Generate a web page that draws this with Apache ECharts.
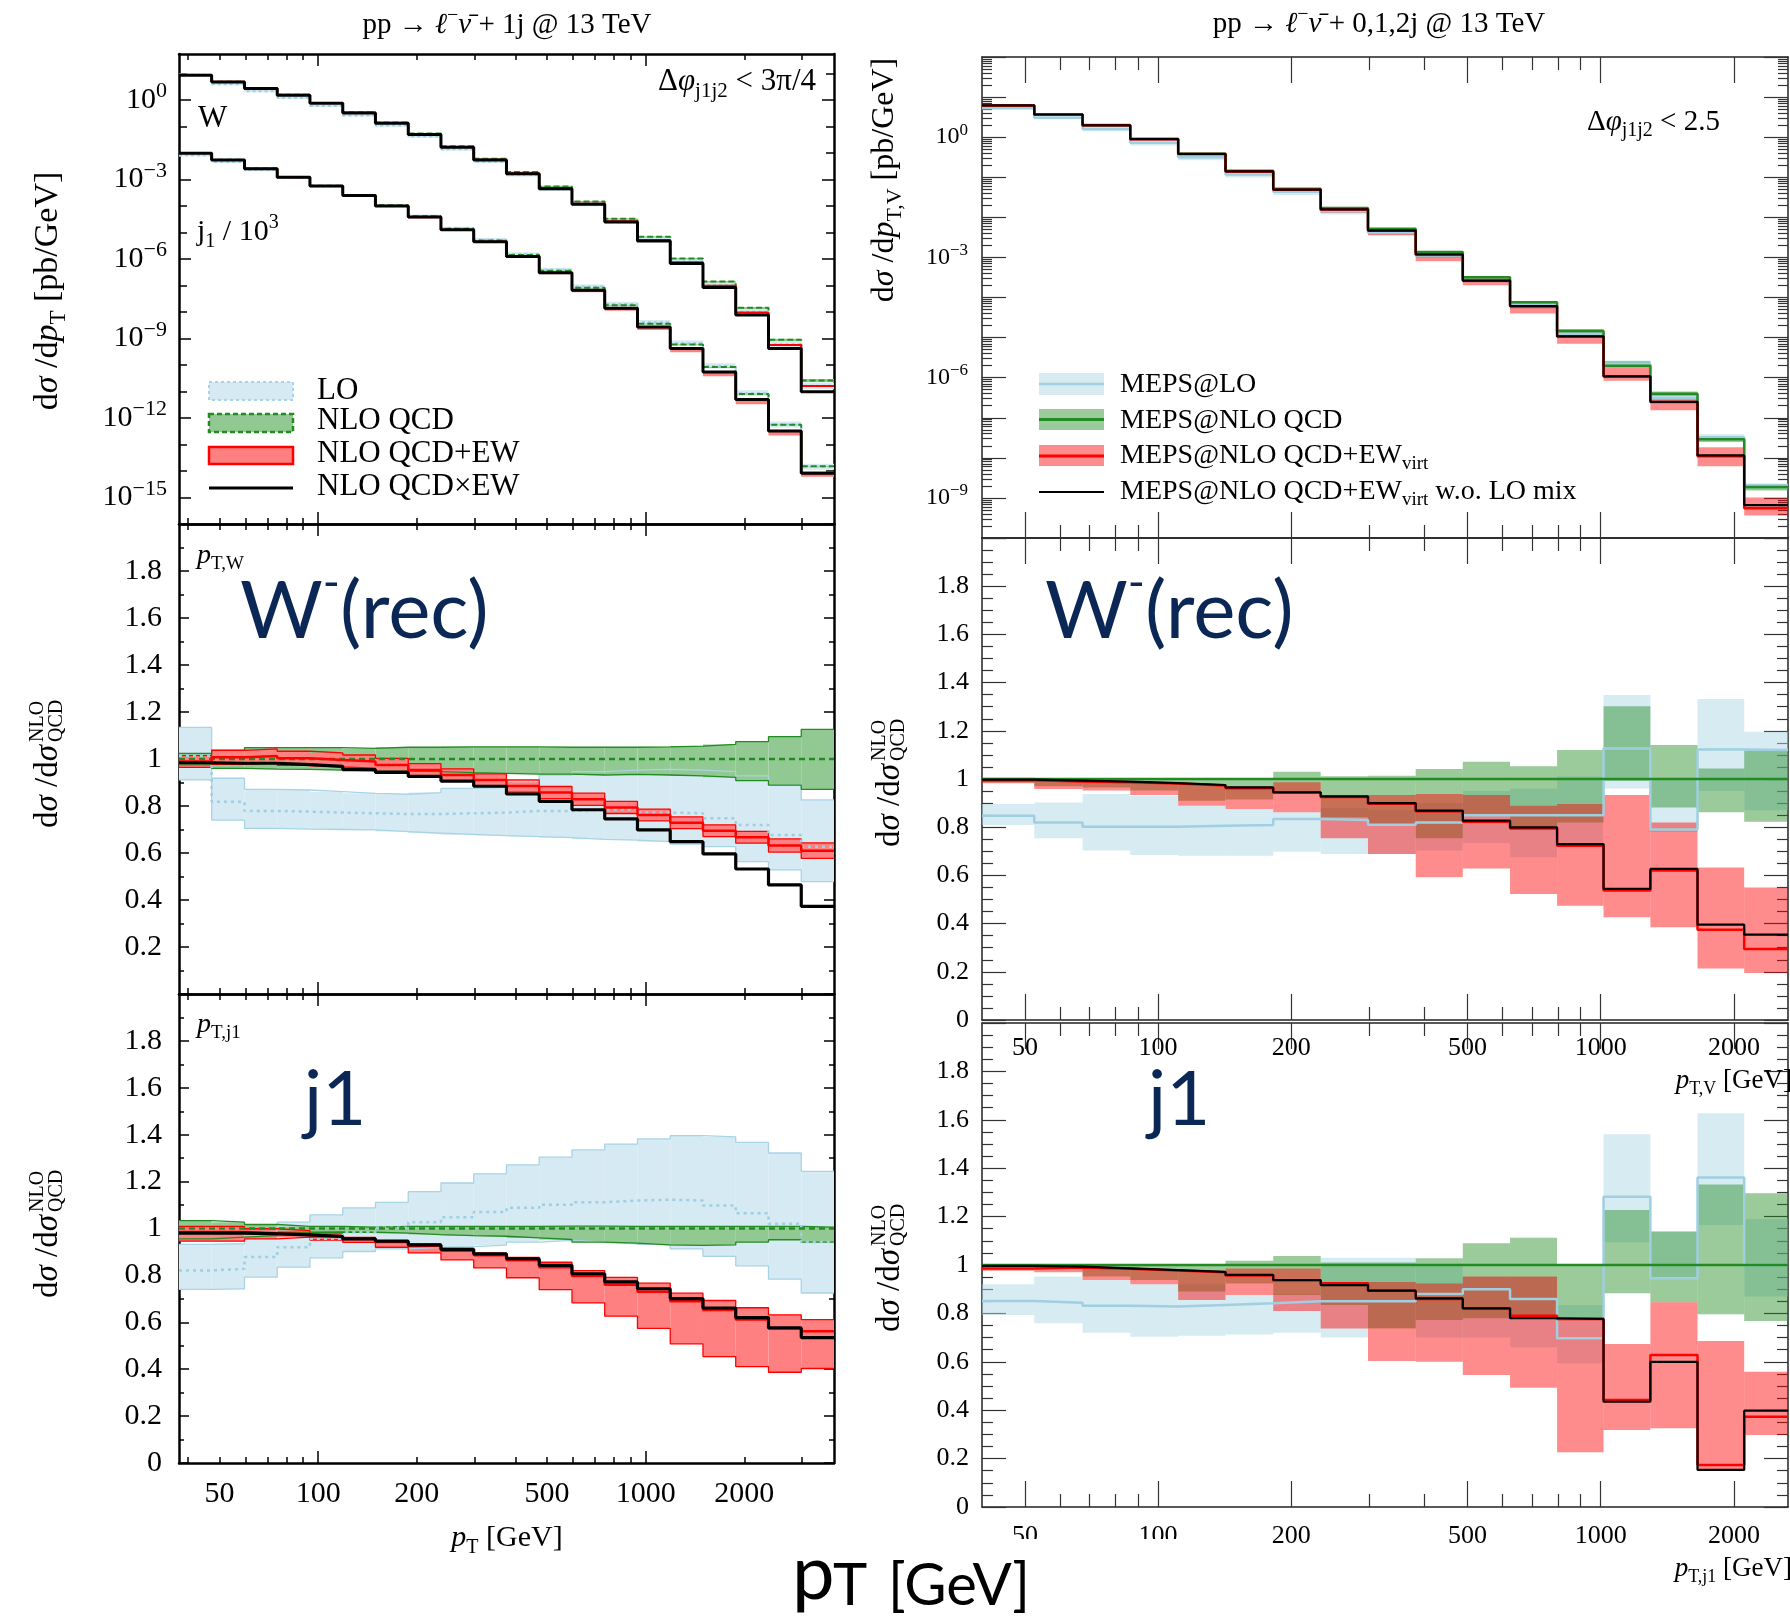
<!DOCTYPE html>
<html><head><meta charset="utf-8">
<script src="https://cdn.jsdelivr.net/npm/echarts@6/dist/echarts.min.js"></script>
<style>html,body{margin:0;padding:0;background:#fff;}#c{width:1790px;height:1617px;}</style>
</head><body><div id="c"></div>
<script>
// ---------------- DATA ----------------
// Left column (pp -> l nu + 1j), 20 log bins
const leftEdges = [37.6, 47.3, 59.6, 75.0, 94.4, 118.9, 149.6, 188.4, 237.1, 298.5, 375.8, 473.1, 595.6, 749.8, 943.9, 1188.3, 1496.0, 1883.3, 2371.0, 2984.9, 3757.8];
const leftXLabels = [50, 100, 200, 500, 1000, 2000];

// NLO QCD absolute distributions [pb/GeV]
const wNLO = [8.75, 4.82, 2.74, 1.55, 0.766, 0.339, 0.14, 0.0541, 0.0179, 6.08e-3, 1.91e-3, 5.45e-4, 1.47e-4, 3.30e-5, 6.86e-6, 1.04e-6, 1.40e-7, 1.43e-8, 8.97e-10, 2.62e-11];
const j1NLO = [9.98, 5.48, 2.57, 1.24, 0.582, 0.257, 0.106, 0.0409, 0.0138, 5.0e-3, 1.41e-3, 3.58e-4, 8.18e-5, 1.79e-5, 3.62e-6, 5.94e-7, 8.3e-8, 8.1e-9, 5.6e-10, 1.52e-11];
const j1Scale = 1e3;

// W ratios to NLO QCD
const wLO    = [1.014, 0.818, 0.779, 0.776, 0.772, 0.769, 0.766, 0.766, 0.769, 0.772, 0.779, 0.779, 0.783, 0.786, 0.772, 0.769, 0.748, 0.719, 0.677, 0.627];
const wLOLo  = [0.911, 0.740, 0.705, 0.702, 0.700, 0.698, 0.691, 0.684, 0.679, 0.674, 0.670, 0.665, 0.658, 0.655, 0.648, 0.638, 0.627, 0.563, 0.528, 0.478];
const wLOHi  = [1.135, 0.918, 0.871, 0.868, 0.861, 0.854, 0.850, 0.857, 0.875, 0.879, 0.904, 0.932, 0.946, 0.953, 0.956, 0.953, 0.946, 0.928, 0.889, 0.826];
const wNLOLo = [0.975, 0.960, 0.957, 0.956, 0.953, 0.950, 0.949, 0.946, 0.942, 0.939, 0.936, 0.936, 0.932, 0.935, 0.932, 0.928, 0.922, 0.908, 0.889, 0.871];
const wNLOHi = [1.024, 1.038, 1.048, 1.048, 1.048, 1.045, 1.050, 1.050, 1.052, 1.052, 1.052, 1.050, 1.050, 1.050, 1.052, 1.055, 1.062, 1.074, 1.095, 1.126];
const wEW    = [0.989, 1.007, 1.013, 1.003, 0.996, 0.989, 0.975, 0.953, 0.932, 0.911, 0.885, 0.857, 0.829, 0.794, 0.762, 0.729, 0.695, 0.667, 0.632, 0.610];
const wEWLo  = [0.964, 0.977, 0.983, 0.973, 0.966, 0.961, 0.947, 0.926, 0.906, 0.885, 0.859, 0.831, 0.803, 0.768, 0.737, 0.704, 0.670, 0.642, 0.604, 0.577];
const wEWHi  = [1.014, 1.037, 1.043, 1.033, 1.026, 1.017, 1.003, 0.980, 0.958, 0.937, 0.911, 0.883, 0.855, 0.820, 0.787, 0.754, 0.720, 0.692, 0.660, 0.643];
const wEWx   = [0.984, 0.982, 0.982, 0.976, 0.969, 0.955, 0.943, 0.926, 0.906, 0.884, 0.851, 0.820, 0.784, 0.745, 0.698, 0.648, 0.596, 0.532, 0.464, 0.373];

// j1 ratios to NLO QCD
const jLO    = [0.821, 0.828, 0.878, 0.920, 0.956, 0.984, 1.003, 1.027, 1.048, 1.070, 1.088, 1.101, 1.112, 1.119, 1.123, 1.119, 1.098, 1.065, 1.020, 0.942];
const jLOLo  = [0.740, 0.743, 0.793, 0.835, 0.875, 0.902, 0.913, 0.920, 0.923, 0.929, 0.942, 0.949, 0.942, 0.935, 0.930, 0.913, 0.881, 0.841, 0.784, 0.725];
const jLOHi  = [0.932, 0.935, 0.970, 1.027, 1.058, 1.088, 1.111, 1.157, 1.194, 1.233, 1.271, 1.304, 1.335, 1.360, 1.382, 1.396, 1.391, 1.367, 1.322, 1.244];
const jNLOLo = [0.956, 0.963, 0.970, 0.984, 0.985, 0.984, 0.980, 0.974, 0.970, 0.967, 0.960, 0.953, 0.942, 0.938, 0.930, 0.928, 0.930, 0.942, 0.952, 0.942];
const jNLOHi = [1.034, 1.027, 1.017, 1.009, 1.009, 1.006, 1.009, 1.009, 1.009, 1.009, 1.009, 1.010, 1.010, 1.009, 1.009, 1.009, 1.009, 1.009, 1.009, 1.006];
const jEW    = [0.985, 0.985, 0.980, 0.975, 0.966, 0.955, 0.942, 0.925, 0.905, 0.886, 0.865, 0.835, 0.797, 0.760, 0.730, 0.690, 0.652, 0.612, 0.575, 0.562];
const jEWLo  = [0.946, 0.946, 0.956, 0.963, 0.951, 0.941, 0.920, 0.896, 0.866, 0.832, 0.790, 0.739, 0.683, 0.626, 0.574, 0.508, 0.454, 0.411, 0.387, 0.403];
const jEWHi  = [1.009, 1.009, 0.999, 0.991, 0.977, 0.962, 0.948, 0.934, 0.915, 0.895, 0.877, 0.856, 0.820, 0.792, 0.767, 0.724, 0.693, 0.662, 0.632, 0.611];
const jEWx   = [0.980, 0.980, 0.977, 0.973, 0.966, 0.956, 0.946, 0.930, 0.911, 0.892, 0.871, 0.843, 0.807, 0.772, 0.743, 0.701, 0.661, 0.620, 0.576, 0.535];

// Right column (pp -> l nu + 0,1,2j, MEPS), 17 bins
const rightEdges = [40, 52.5, 67.5, 86.5, 111, 142, 182, 233, 298, 382, 488, 624, 797, 1015, 1295, 1655, 2110, 2650];
const rightXLabels = [50, 100, 200, 500, 1000, 2000];
const vNLO = [6.2, 3.7, 2.0, 0.91, 0.39, 0.145, 0.052, 0.017, 5.2e-3, 1.36e-3, 3.2e-4, 7.6e-5, 1.47e-5, 1.98e-6, 3.97e-7, 2.9e-8, 1.87e-9];

const vLO      = [0.848, 0.820, 0.802, 0.802, 0.806, 0.809, 0.834, 0.830, 0.810, 0.820, 0.850, 0.850, 0.850, 1.127, 0.790, 1.122, 1.120];
const vLOLo    = [0.809, 0.754, 0.703, 0.685, 0.682, 0.682, 0.698, 0.689, 0.689, 0.703, 0.734, 0.675, 0.730, 0.961, 0.780, 0.950, 0.870];
const vLOHi    = [0.896, 0.903, 0.938, 0.930, 0.889, 0.876, 0.862, 0.880, 0.870, 0.900, 0.950, 0.960, 1.010, 1.349, 1.000, 1.332, 1.196];
const vNLOLo   = [0.985, 0.970, 0.965, 0.952, 0.910, 0.915, 0.945, 0.841, 0.809, 0.754, 0.851, 0.793, 0.820, 0.993, 0.882, 0.862, 0.823];
const vNLOHi   = [1.005, 1.004, 1.003, 1.004, 1.000, 1.000, 1.030, 1.011, 1.014, 1.041, 1.072, 1.053, 1.120, 1.302, 1.141, 1.044, 1.118];
const vEW      = [0.995, 0.990, 0.987, 0.981, 0.973, 0.962, 0.943, 0.925, 0.897, 0.866, 0.823, 0.795, 0.723, 0.537, 0.620, 0.375, 0.295];
const vEWLo    = [0.982, 0.958, 0.952, 0.934, 0.889, 0.876, 0.862, 0.754, 0.689, 0.592, 0.629, 0.523, 0.474, 0.426, 0.385, 0.214, 0.195];
const vEWHi    = [1.000, 0.995, 0.992, 0.986, 0.979, 0.970, 0.986, 0.931, 0.934, 0.938, 0.934, 0.889, 0.896, 0.934, 0.820, 0.633, 0.550];
const vEWnoMix = [0.997, 0.993, 0.989, 0.983, 0.975, 0.965, 0.945, 0.928, 0.900, 0.869, 0.827, 0.799, 0.730, 0.544, 0.627, 0.396, 0.354];

const jvLO      = [0.851, 0.844, 0.832, 0.828, 0.835, 0.842, 0.850, 0.850, 0.850, 0.880, 0.900, 0.860, 0.697, 1.282, 0.945, 1.362, 1.000];
const jvLOLo    = [0.793, 0.759, 0.720, 0.704, 0.708, 0.713, 0.720, 0.700, 0.740, 0.700, 0.700, 0.660, 0.594, 1.094, 0.945, 1.165, 0.870];
const jvLOHi    = [0.920, 0.952, 0.938, 0.920, 0.920, 0.876, 0.880, 1.030, 1.030, 1.000, 0.950, 0.950, 0.835, 1.540, 1.138, 1.627, 1.190];
const jvNLOLo   = [0.993, 0.985, 0.952, 0.938, 0.890, 0.924, 0.876, 0.835, 0.738, 0.773, 0.780, 0.780, 0.777, 0.883, 0.846, 0.796, 0.769];
const jvNLOHi   = [1.004, 1.003, 0.998, 1.000, 1.002, 1.018, 1.037, 1.010, 1.010, 1.028, 1.090, 1.113, 1.000, 1.227, 1.138, 1.333, 1.296];
const jvEW      = [0.986, 0.990, 0.984, 0.977, 0.970, 0.957, 0.936, 0.925, 0.894, 0.860, 0.820, 0.790, 0.777, 0.442, 0.628, 0.174, 0.373];
const jvEWLo    = [0.976, 0.970, 0.938, 0.920, 0.855, 0.876, 0.810, 0.738, 0.603, 0.600, 0.545, 0.493, 0.226, 0.318, 0.325, 0.150, 0.298];
const jvEWHi    = [0.996, 0.993, 0.986, 0.980, 0.972, 0.986, 0.986, 0.924, 0.930, 0.924, 0.952, 0.952, 0.777, 0.674, 0.846, 0.686, 0.559];
const jvEWnoMix = [0.996, 0.993, 0.986, 0.979, 0.972, 0.959, 0.938, 0.917, 0.894, 0.862, 0.821, 0.780, 0.777, 0.435, 0.600, 0.153, 0.398];

const ratioLabels = [0, 0.2, 0.4, 0.6, 0.8, 1, 1.2, 1.4, 1.6, 1.8];
const logLabelsL = [1, 1e-3, 1e-6, 1e-9, 1e-12, 1e-15];
const logLabelsR = [1, 1e-3, 1e-6, 1e-9];

// ---------------- STYLE ----------------
const SERIF = "'Liberation Serif', 'DejaVu Serif', serif";
const SANS = "Lato, 'Open Sans', sans-serif";
const NAVY = '#0a2756';
const LOFILL = '#d5eaf2', LOEDGE = '#a8d4e5', LOLINE = '#9fcfe0';
const GFILL = '#92c992', GEDGE = '#228b22';
const RFILL = '#ff8080', REDGE = '#ff0000';
const aLO = 'rgba(173,216,230,0.5)', aG = 'rgba(34,139,34,0.45)', aR = 'rgba(255,0,0,0.45)';

// ---------------- HELPERS ----------------
const mul = (a, b) => a.map((v, i) => v * b[i]);
const scl = (a, k) => a.map(v => v / k);
function steps(edges, vals) {
  const d = [];
  vals.forEach((v, i) => { d.push([edges[i], v]); d.push([edges[i + 1], v]); });
  return d;
}
function bandData(edges, lo, hi) { return lo.map((l, i) => [edges[i], edges[i + 1], l, hi[i]]); }

const xAxes = [], yAxes = [], series = [];
const LS = {line: '#000', lineW: 2.5, tick: '#000', tickW: 1.5, size: 30};
const RS = {line: '#222', lineW: 1.5, tick: '#333', tickW: 1.2, size: 26};

function logFmt(v) {
  const e = Math.round(Math.log10(v));
  return '{b|10}{s|' + (e < 0 ? '\u2212' + (-e) : e) + '}';
}
function labelCfg(o, st) {
  const cfg = {show: true, customValues: o.labels, margin: o.margin, color: '#000',
    fontFamily: SERIF, fontSize: o.labelSize || st.size};
  if (o.logLabel) {
    const bs = o.labelSize || st.size, ss = Math.round(bs * (o.supRatio || 0.7));
    cfg.formatter = logFmt;
    cfg.rich = {b: {fontFamily: SERIF, fontSize: bs, color: '#000', lineHeight: Math.round(bs * 1.3)},
                s: {fontFamily: SERIF, fontSize: ss, color: '#000', verticalAlign: 'top', lineHeight: Math.round(ss * 1.1)}};
  } else {
    cfg.formatter = v => String(Math.round(v * 10) / 10);
  }
  return cfg;
}
function addAxes(list, g, o, positions) {
  const st = o.st;
  const base = {gridIndex: g, type: o.type, min: o.min, max: o.max, splitLine: {show: false},
    splitArea: {show: false}, minorTick: {show: false}, axisPointer: {show: false}, silent: true};
  if (o.type === 'log') base.logBase = 10;
  const idx = list.length;
  const mk = (pos, vals, len, showLine, labels) => Object.assign({}, base, {position: pos,
    axisLine: {show: showLine, onZero: false, lineStyle: {color: st.line, width: st.lineW}},
    axisTick: {show: true, inside: true, length: len, customValues: vals, lineStyle: {color: st.tick, width: st.tickW}},
    axisLabel: labels ? labelCfg(o, st) : {show: false}});
  list.push(mk(positions[0], o.major, o.majLen, true, !!o.labels));
  list.push(mk(positions[0], o.minor, o.minLen, false, false));
  list.push(mk(positions[1], o.major, o.majLen, true, false));
  list.push(mk(positions[1], o.minor, o.minLen, false, false));
  return idx;
}
const addX = (g, o) => addAxes(xAxes, g, o, ['bottom', 'top']);
const addY = (g, o) => addAxes(yAxes, g, o, ['left', 'right']);

function band(xi, yi, data, fill) {
  return {type: 'custom', xAxisIndex: xi, yAxisIndex: yi, data, silent: true, clip: true,
    encode: {x: [0, 1], y: [2, 3]},
    renderItem(params, api) {
      const a = api.coord([api.value(0), api.value(3)]);
      const b = api.coord([api.value(1), api.value(2)]);
      return {type: 'rect', shape: {x: a[0], y: a[1], width: b[0] - a[0], height: b[1] - a[1]}, style: {fill}};
    }};
}
function sline(xi, yi, edges, vals, color, width, type) {
  return {type: 'line', xAxisIndex: xi, yAxisIndex: yi, data: steps(edges, vals), symbol: 'none', showSymbol: false,
    silent: true, clip: true, lineStyle: {color, width, type: type || 'solid'}};
}

// tick value sets
const decades = (a, b) => { const r = []; for (let e = a; e <= b; e++) r.push(Math.pow(10, e)); return r; };
const subDecades = (a, b) => { const r = []; for (let e = a; e < b; e++) for (let k = 2; k <= 9; k++) r.push(k * Math.pow(10, e)); return r; };
const linTicks = (step, skip) => { const r = []; for (let i = 0; i <= Math.round(2 / step); i++) { const v = Math.round(i * step * 100) / 100; if (!skip || Math.abs(v / skip - Math.round(v / skip)) > 1e-6) r.push(v); } return r; };

// ---------------- AXES ----------------
const lx = {type: 'log', min: leftEdges[0], max: leftEdges[leftEdges.length - 1], st: LS,
  major: [100, 1000], minor: [40, 50, 60, 70, 80, 90, 200, 300, 400, 500, 600, 700, 800, 900, 2000, 3000], majLen: 12, minLen: 6};
const rx = {type: 'log', min: rightEdges[0], max: rightEdges[rightEdges.length - 1], st: RS,
  major: [50, 100, 200, 500, 1000, 2000], minor: [60, 70, 80, 90, 300, 400, 600, 700, 800, 900], majLen: 26, minLen: 13};

const X0 = addX(0, lx);
const X1 = addX(1, lx);
const X2 = addX(2, Object.assign({}, lx, {labels: leftXLabels, margin: 16}));
const X3 = addX(3, rx);
const X4 = addX(4, Object.assign({}, rx, {labels: rightXLabels, margin: 15}));
const X5 = addX(5, Object.assign({}, rx, {labels: rightXLabels, margin: 16}));

const Y0 = addY(0, {type: 'log', min: 1e-16, max: 54, st: LS, major: logLabelsL, minor: decades(-16, 1), majLen: 12, minLen: 8,
  labels: logLabelsL, logLabel: true, margin: 12, labelSize: 30, supRatio: 0.72});
const lratio = {type: 'value', min: 0, max: 2, st: LS, major: linTicks(0.2), minor: linTicks(0.1, 0.2), majLen: 10, minLen: 5, margin: 17};
const Y1 = addY(1, Object.assign({}, lratio, {labels: ratioLabels.slice(1)}));
const Y2 = addY(2, Object.assign({}, lratio, {labels: ratioLabels}));
const Y3 = addY(3, {type: 'log', min: 1e-10, max: 100, st: RS, major: decades(-10, 2), minor: subDecades(-10, 2), majLen: 24, minLen: 10,
  labels: logLabelsR, logLabel: true, margin: 14, labelSize: 24});
const rratio = {type: 'value', min: 0, max: 2, st: RS, major: linTicks(0.2), minor: linTicks(0.05, 0.2), majLen: 24, minLen: 11, margin: 13, labels: ratioLabels};
const Y4 = addY(4, rratio);
const Y5 = addY(5, rratio);

// ---------------- SERIES ----------------
[[wNLO, wLO, wLOLo, wLOHi, wNLOLo, wNLOHi, wEW, wEWLo, wEWHi, wEWx],
 [scl(j1NLO, j1Scale), jLO, jLOLo, jLOHi, jNLOLo, jNLOHi, jEW, jEWLo, jEWHi, jEWx]].forEach(s => {
  const [nlo, lo, loLo, loHi, nLo, nHi, ew, ewLo, ewHi, ewx] = s;
  series.push(band(X0, Y0, bandData(leftEdges, mul(nlo, loLo), mul(nlo, loHi)), LOFILL));
  series.push(band(X0, Y0, bandData(leftEdges, mul(nlo, nLo), mul(nlo, nHi)), GFILL));
  series.push(band(X0, Y0, bandData(leftEdges, mul(nlo, ewLo), mul(nlo, ewHi)), RFILL));
});
[[wNLO, wLO, wEW, wEWx], [scl(j1NLO, j1Scale), jLO, jEW, jEWx]].forEach(s => {
  const [nlo, lo, ew, ewx] = s;
  series.push(sline(X0, Y0, leftEdges, mul(nlo, lo), LOLINE, 2, [3, 3]));
  series.push(sline(X0, Y0, leftEdges, nlo, GEDGE, 2, [6, 3]));
  series.push(sline(X0, Y0, leftEdges, mul(nlo, ew), REDGE, 2));
  series.push(sline(X0, Y0, leftEdges, mul(nlo, ewx), '#000', 3));
});

function leftRatio(xi, yi, lo, loLo, loHi, nLo, nHi, ew, ewLo, ewHi, ewx) {
  const ones = lo.map(() => 1);
  series.push(band(xi, yi, bandData(leftEdges, loLo, loHi), LOFILL));
  series.push(sline(xi, yi, leftEdges, loLo, LOEDGE, 1.3));
  series.push(sline(xi, yi, leftEdges, loHi, LOEDGE, 1.3));
  series.push(band(xi, yi, bandData(leftEdges, nLo, nHi), GFILL));
  series.push(sline(xi, yi, leftEdges, nLo, GEDGE, 1.3));
  series.push(sline(xi, yi, leftEdges, nHi, GEDGE, 1.3));
  series.push(band(xi, yi, bandData(leftEdges, ewLo, ewHi), RFILL));
  series.push(sline(xi, yi, leftEdges, ewLo, REDGE, 1.3));
  series.push(sline(xi, yi, leftEdges, ewHi, REDGE, 1.3));
  series.push(sline(xi, yi, leftEdges, lo, LOLINE, 2.5, [3, 4]));
  series.push(sline(xi, yi, leftEdges, ones, GEDGE, 2.5, [6, 4]));
  series.push(sline(xi, yi, leftEdges, ew, REDGE, 2.5));
  series.push(sline(xi, yi, leftEdges, ewx, '#000', 3.2));
}
leftRatio(X1, Y1, wLO, wLOLo, wLOHi, wNLOLo, wNLOHi, wEW, wEWLo, wEWHi, wEWx);
leftRatio(X2, Y2, jLO, jLOLo, jLOHi, jNLOLo, jNLOHi, jEW, jEWLo, jEWHi, jEWx);

series.push(band(X3, Y3, bandData(rightEdges, mul(vNLO, vLOLo), mul(vNLO, vLOHi)), aLO));
series.push(sline(X3, Y3, rightEdges, mul(vNLO, vLO), LOLINE, 2.5));
series.push(band(X3, Y3, bandData(rightEdges, mul(vNLO, vNLOLo), mul(vNLO, vNLOHi)), aG));
series.push(band(X3, Y3, bandData(rightEdges, mul(vNLO, vEWLo), mul(vNLO, vEWHi)), aR));
series.push(sline(X3, Y3, rightEdges, vNLO, GEDGE, 2.5));
series.push(sline(X3, Y3, rightEdges, mul(vNLO, vEW), REDGE, 2.5));
series.push(sline(X3, Y3, rightEdges, mul(vNLO, vEWnoMix), '#000', 2.2));

function rightRatio(xi, yi, lo, loLo, loHi, nLo, nHi, ew, ewLo, ewHi, ewx) {
  const ones = lo.map(() => 1);
  series.push(band(xi, yi, bandData(rightEdges, loLo, loHi), aLO));
  series.push(sline(xi, yi, rightEdges, lo, LOLINE, 2.5));
  series.push(band(xi, yi, bandData(rightEdges, nLo, nHi), aG));
  series.push(band(xi, yi, bandData(rightEdges, ewLo, ewHi), aR));
  series.push(sline(xi, yi, rightEdges, ones, GEDGE, 2.5));
  series.push(sline(xi, yi, rightEdges, ew, REDGE, 2.5));
  series.push(sline(xi, yi, rightEdges, ewx, '#000', 2.2));
}
rightRatio(X4, Y4, vLO, vLOLo, vLOHi, vNLOLo, vNLOHi, vEW, vEWLo, vEWHi, vEWnoMix);
rightRatio(X5, Y5, jvLO, jvLOLo, jvLOHi, jvNLOLo, jvNLOHi, jvEW, jvEWLo, jvEWHi, jvEWnoMix);

// ---------------- TEXT / GRAPHIC ----------------
function tok(size, family, fill, extra) {
  return Object.assign({fontSize: size, fontFamily: family, fill, lineHeight: Math.round(size * 1.3)}, extra || {});
}
function richSet(size, family, fill) {
  const ss = Math.round(size * 0.68);
  return {
    i: tok(size, family, fill, {fontStyle: 'italic'}),
    sub: tok(ss, family, fill, {verticalAlign: 'bottom', lineHeight: Math.round(ss * 1.1)}),
    sup: tok(ss, family, fill, {verticalAlign: 'top', lineHeight: Math.round(ss * 1.1)})
  };
}
function T(x, y, text, size, opts) {
  opts = opts || {};
  const family = opts.family || SERIF, fill = opts.fill || '#000';
  return {type: 'text', x, y, z: 100, silent: true, rotation: opts.rot || 0,
    style: {text, rich: opts.rich || richSet(size, family, fill), fontSize: size, fontFamily: family, fill,
      lineHeight: Math.round(size * 1.3), align: opts.align || 'left', verticalAlign: 'middle'}};
}
function ratioTitle(cx, cy) {
  return {type: 'group', x: cx, y: cy, rotation: Math.PI / 2, z: 100, silent: true, children: [
    T(-68, 0, 'd{i|σ} /d{i|σ}', 33),
    T(18, -10, 'NLO', 20),
    T(18, 9, 'QCD', 20)
  ]};
}
const bigRich = {s: {fontSize: 46, fontFamily: SANS, fill: NAVY, verticalAlign: 'top', lineHeight: 54}};

const graphics = [
  T(507, 25, 'pp → {i|ℓ}{sup|−}{i|ν̄} + 1j @ 13 TeV', 29, {align: 'center'}),
  T(1379, 24, 'pp → {i|ℓ}{sup|−}{i|ν̄} + 0,1,2j @ 13 TeV', 29, {align: 'center'}),
  T(48, 291, 'd{i|σ} /d{i|p}{sub|T} [pb/GeV]', 34, {align: 'center', rot: Math.PI / 2}),
  T(885, 180, 'd{i|σ} /d{i|p}{sub|T,V} [pb/GeV]', 32, {align: 'center', rot: Math.PI / 2}),
  ratioTitle(48, 760), ratioTitle(48, 1230), ratioTitle(890, 779), ratioTitle(890, 1264),
  T(507, 1538, '{i|p}{sub|T} [GeV]', 30, {align: 'center'}),
  T(1792, 1081, '{i|p}{sub|T,V} [GeV]', 27, {align: 'right'}),
  T(1792, 1569, '{i|p}{sub|T,j1} [GeV]', 27, {align: 'right'}),
  T(816, 82, 'Δ{i|φ}{sub|j1j2} < 3π/4', 31, {align: 'right'}),
  T(198, 119, 'W', 31),
  T(197, 232, 'j{sub|1} / 10{sup|3}', 30),
  T(197, 556, '{i|p}{sub|T,W}', 28),
  T(197, 1025, '{i|p}{sub|T,j1}', 28),
  T(1587, 122, 'Δ{i|φ}{sub|j1j2} < 2.5', 29),
  {type: 'rect', z: 100, silent: true, shape: {x: 209, y: 382, width: 84, height: 18}, style: {fill: LOFILL, stroke: LOEDGE, lineWidth: 2, lineDash: [3, 3]}},
  {type: 'rect', z: 100, silent: true, shape: {x: 209, y: 414, width: 84, height: 18}, style: {fill: GFILL, stroke: GEDGE, lineWidth: 2.5, lineDash: [5, 3]}},
  {type: 'rect', z: 100, silent: true, shape: {x: 209, y: 447, width: 84, height: 17}, style: {fill: RFILL, stroke: REDGE, lineWidth: 2.5}},
  {type: 'line', z: 100, silent: true, shape: {x1: 209, y1: 488, x2: 293, y2: 488}, style: {stroke: '#000', lineWidth: 3}},
  T(317, 391, 'LO', 31), T(317, 421, 'NLO QCD', 31), T(317, 454, 'NLO QCD+EW', 31), T(317, 487, 'NLO QCD×EW', 31),
  {type: 'rect', z: 100, silent: true, shape: {x: 1039, y: 373, width: 65, height: 22}, style: {fill: aLO}},
  {type: 'line', z: 100, silent: true, shape: {x1: 1039, y1: 384, x2: 1104, y2: 384}, style: {stroke: LOLINE, lineWidth: 2.5}},
  {type: 'rect', z: 100, silent: true, shape: {x: 1039, y: 409, width: 65, height: 21}, style: {fill: aG}},
  {type: 'line', z: 100, silent: true, shape: {x1: 1039, y1: 419.5, x2: 1104, y2: 419.5}, style: {stroke: GEDGE, lineWidth: 3}},
  {type: 'rect', z: 100, silent: true, shape: {x: 1039, y: 445, width: 65, height: 21}, style: {fill: aR}},
  {type: 'line', z: 100, silent: true, shape: {x1: 1039, y1: 456, x2: 1104, y2: 456}, style: {stroke: REDGE, lineWidth: 3}},
  {type: 'line', z: 100, silent: true, shape: {x1: 1039, y1: 492, x2: 1104, y2: 492}, style: {stroke: '#000', lineWidth: 2}},
  T(1120, 385, 'MEPS@LO', 28), T(1120, 421, 'MEPS@NLO QCD', 28),
  T(1120, 456, 'MEPS@NLO QCD+EW{sub|virt}', 28), T(1120, 492, 'MEPS@NLO QCD+EW{sub|virt} w.o. LO mix', 28),
  T(240, 612, 'W{s|-}(rec)', 80, {family: SANS, fill: NAVY, rich: bigRich}),
  T(1045, 612, 'W{s|-}(rec)', 80, {family: SANS, fill: NAVY, rich: bigRich}),
  T(304, 1100, 'j1', 76, {family: SANS, fill: NAVY}),
  T(1148, 1100, 'j1', 76, {family: SANS, fill: NAVY}),
  {type: 'rect', z: 99, silent: true, shape: {x: 775, y: 1539, width: 440, height: 78}, style: {fill: '#fff'}},
  T(792, 1574, 'p', 76, {family: SANS}),
  T(833, 1586, 'T', 58, {family: SANS}),
  T(888, 1586, '[GeV]', 58, {family: SANS})
];

const grids = [
  {left: 179, top: 54, width: 655, height: 470},
  {left: 179, top: 524, width: 655, height: 470},
  {left: 179, top: 994, width: 655, height: 469},
  {left: 982, top: 57, width: 806, height: 481},
  {left: 982, top: 538, width: 806, height: 482},
  {left: 982, top: 1023, width: 806, height: 484}
].map(g => Object.assign(g, {containLabel: false, outerBoundsMode: 'none'}));

const chart = echarts.init(document.getElementById('c'), null, {renderer: 'canvas'});
chart.setOption({
  animation: false,
  backgroundColor: '#fff',
  grid: grids,
  xAxis: xAxes,
  yAxis: yAxes,
  series,
  graphic: {elements: graphics}
});
</script>
</body></html>
